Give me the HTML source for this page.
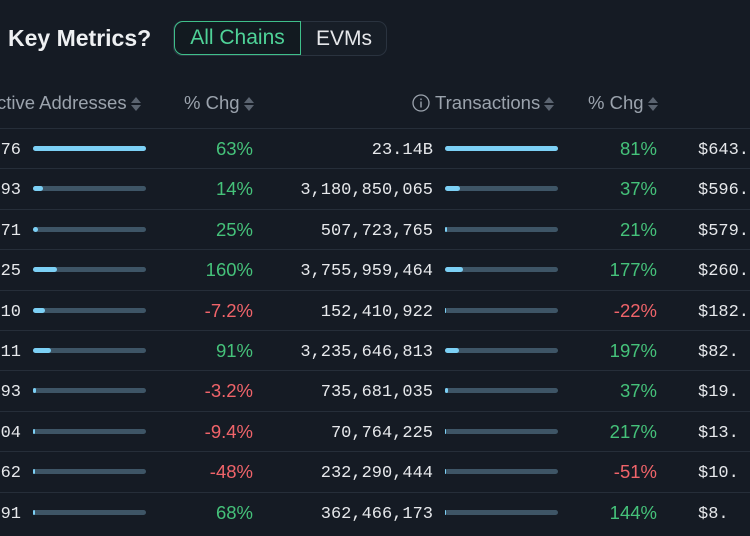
<!DOCTYPE html>
<html><head><style>
body{margin:0;width:750px;height:536px;background:#151b24;overflow:hidden;font-family:"Liberation Sans",sans-serif;position:relative;color:#e6e8eb}
.a{position:absolute;white-space:nowrap}
.title{left:8px;top:25px;font-size:23px;font-weight:bold;color:#eef0f2}
.tog{left:173px;top:21px;width:212px;height:33px;border:1px solid #2a333f;border-radius:9px;background:#171e27}
.ac{left:174px;top:21px;width:127px;height:34px;border:1.5px solid #3fbf8a;border-radius:9px 0 0 9px;color:#4fd398;font-size:21px;line-height:32px;text-align:center;box-sizing:border-box;background:#121a20}
.evm{left:316px;top:21px;font-size:21px;line-height:35px;color:#e6e8eb}
.h{font-size:18.5px;color:#9ba3ad;top:92px}
.srt{display:inline-block;width:10px;margin-left:4px;vertical-align:middle}
.line{left:0;width:750px;height:1px;background:#262e39}
.num{font-family:"Liberation Mono",monospace;font-size:17px;text-align:right}
.pc{font-family:"Liberation Sans",sans-serif;font-size:18.5px;text-align:right}
.g{color:#45c27a}.r{color:#f0646a}
.tr{height:5px;border-radius:3px;background:#3e5566;width:113px}
.f{height:5px;border-radius:3px;background:#7cd0f5}
</style></head><body>
<div class="a title">Key Metrics?</div>
<div class="a tog"></div>
<div class="a ac">All Chains</div>
<div class="a evm">EVMs</div>
<div class="a h" style="left:-3px">ctive Addresses<svg class="srt" viewBox="0 0 10 16" height="16"><path d="M5 1L10 7H0z M5 15L10 9H0z" fill="#5b6470"/></svg></div>
<div class="a h" style="left:184px">% Chg<svg class="srt" viewBox="0 0 10 16" height="16"><path d="M5 1L10 7H0z M5 15L10 9H0z" fill="#5b6470"/></svg></div>
<div class="a h" style="left:412px"><svg width="18" height="18" viewBox="0 0 18 18" style="vertical-align:-3px;margin-right:5px"><circle cx="9" cy="9" r="8" fill="none" stroke="#9ba3ad" stroke-width="1.3"/><rect x="8.3" y="7.5" width="1.4" height="6" fill="#9ba3ad"/><rect x="8.3" y="4.5" width="1.4" height="1.6" fill="#9ba3ad"/></svg>Transactions<svg class="srt" viewBox="0 0 10 16" height="16"><path d="M5 1L10 7H0z M5 15L10 9H0z" fill="#5b6470"/></svg></div>
<div class="a h" style="left:588px">% Chg<svg class="srt" viewBox="0 0 10 16" height="16"><path d="M5 1L10 7H0z M5 15L10 9H0z" fill="#5b6470"/></svg></div>
<div id="rows"></div>
<script>
var d=[["76",113,"63%",1,"23.14B",113,"81%",1,"$643."],
["93",10,"14%",1,"3,180,850,065",15,"37%",1,"$596."],
["71",5,"25%",1,"507,723,765",2,"21%",1,"$579."],
["25",24,"160%",1,"3,755,959,464",18,"177%",1,"$260."],
["10",12,"-7.2%",0,"152,410,922",1,"-22%",0,"$182."],
["11",18,"91%",1,"3,235,646,813",14,"197%",1,"$82."],
["93",3,"-3.2%",0,"735,681,035",3,"37%",1,"$19."],
["04",2,"-9.4%",0,"70,764,225",1,"217%",1,"$13."],
["62",2,"-48%",0,"232,290,444",1,"-51%",0,"$10."],
["91",2,"68%",1,"362,466,173",1,"144%",1,"$8."]];
var h='';
for(var i=0;i<10;i++){var y=128+i*40.4,c=y+21,r=d[i];
h+='<div class="a line" style="top:'+Math.round(y)+'px"></div>';
h+='<div class="a num" style="right:729px;top:'+(c-8)+'px">'+r[0]+'</div>';
h+='<div class="a tr" style="left:33px;top:'+(c-3)+'px"><div class="f" style="width:'+r[1]+'px"></div></div>';
h+='<div class="a pc '+(r[3]?'g':'r')+'" style="right:497px;top:'+(c-11)+'px">'+r[2]+'</div>';
h+='<div class="a num" style="right:317px;top:'+(c-8)+'px">'+r[4]+'</div>';
h+='<div class="a tr" style="left:445px;top:'+(c-3)+'px"><div class="f" style="width:'+r[5]+'px"></div></div>';
h+='<div class="a pc '+(r[7]?'g':'r')+'" style="right:93px;top:'+(c-11)+'px">'+r[6]+'</div>';
h+='<div class="a num" style="left:698px;top:'+(c-8)+'px">'+r[8]+'</div>';}
document.getElementById('rows').innerHTML=h;
</script>
</body></html>
